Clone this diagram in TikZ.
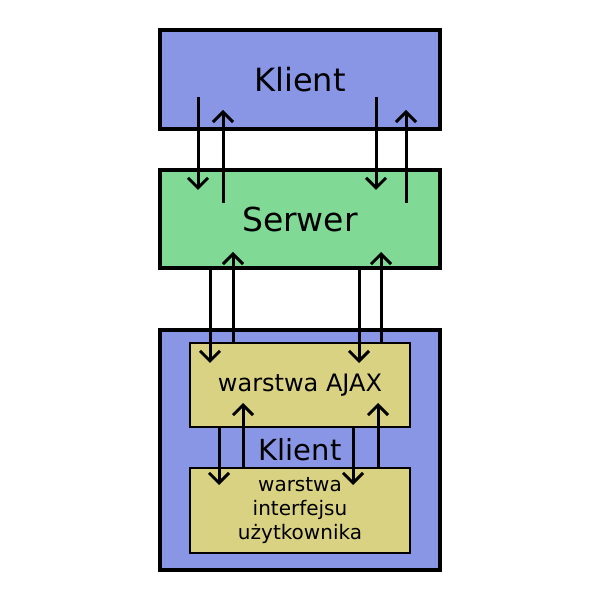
\documentclass[tikz,border=0pt]{standalone}
\usepackage{fontspec}
\setmainfont{DejaVu Sans}
\usetikzlibrary{arrows.meta}
\definecolor{klientblue}{RGB}{136,150,229}
\definecolor{serwergreen}{RGB}{128,217,149}
\definecolor{warstwayellow}{RGB}{217,210,130}
\begin{document}
\begin{tikzpicture}[x=1pt,y=1pt]
            \tikzset{
              bigbox/.style={draw=black, line width=4pt, minimum width=280pt, inner sep=0pt, outer sep=0pt},
              layerbox/.style={draw=black, line width=2pt, fill=warstwayellow, minimum width=220pt, inner sep=0pt, outer sep=0pt, align=center},
              arr/.style={line width=3pt, -{Straight Barb[length=10pt,width=20pt]}}
            }
            \useasboundingbox (0,0) rectangle (600,600);

            % trzy glowne bloki
            \node[bigbox, fill=klientblue, minimum height=99pt, font=\fontsize{32}{38}\selectfont] (klient) at (300,520.5) {Klient};
            \node[bigbox, fill=serwergreen, minimum height=98pt, font=\fontsize{33}{39}\selectfont] (serwer) at (300,381) {Serwer};
            \node[bigbox, fill=klientblue, minimum height=240pt, font=\fontsize{29}{34}\selectfont] (klient2) at (300,150) {Klient};

            % warstwy wewnatrz klienta
            \node[layerbox, minimum height=84pt, font=\fontsize{24}{29}\selectfont] (ajax) at (300,215) {warstwa AJAX};
            \node[layerbox, minimum height=85pt, font=\fontsize{20}{24}\selectfont] (ui) at (300,89.5) {warstwa\\interfejsu\\użytkownika};

            % Klient <-> Serwer
            \draw[arr] ([shift={(38,32)}]klient.south west) -- ([shift={(38,-20)}]serwer.north west);
            \draw[arr] ([shift={(63,-33)}]serwer.north west) -- ([shift={(63,19)}]klient.south west);
            \draw[arr] ([shift={(216,32)}]klient.south west) -- ([shift={(216,-20)}]serwer.north west);
            \draw[arr] ([shift={(246,-33)}]serwer.north west) -- ([shift={(246,19)}]klient.south west);

            % Serwer <-> warstwa AJAX
            \draw[arr] ([shift={(50,0)}]serwer.south west) -- ([shift={(20,-20)}]ajax.north west);
            \draw[arr] ([shift={(43,0)}]ajax.north west) -- ([shift={(73,16)}]serwer.south west);
            \draw[arr] ([shift={(199,0)}]serwer.south west) -- ([shift={(169,-20)}]ajax.north west);
            \draw[arr] ([shift={(191,0)}]ajax.north west) -- ([shift={(221,16)}]serwer.south west);

            % warstwa AJAX <-> interfejs
            \draw[arr] ([shift={(29,0)}]ajax.south west) -- ([shift={(29,-17)}]ui.north west);
            \draw[arr] ([shift={(53,0)}]ui.north west) -- ([shift={(53,24)}]ajax.south west);
            \draw[arr] ([shift={(163,0)}]ajax.south west) -- ([shift={(163,-17)}]ui.north west);
            \draw[arr] ([shift={(188,0)}]ui.north west) -- ([shift={(188,24)}]ajax.south west);
\end{tikzpicture}
\end{document}
